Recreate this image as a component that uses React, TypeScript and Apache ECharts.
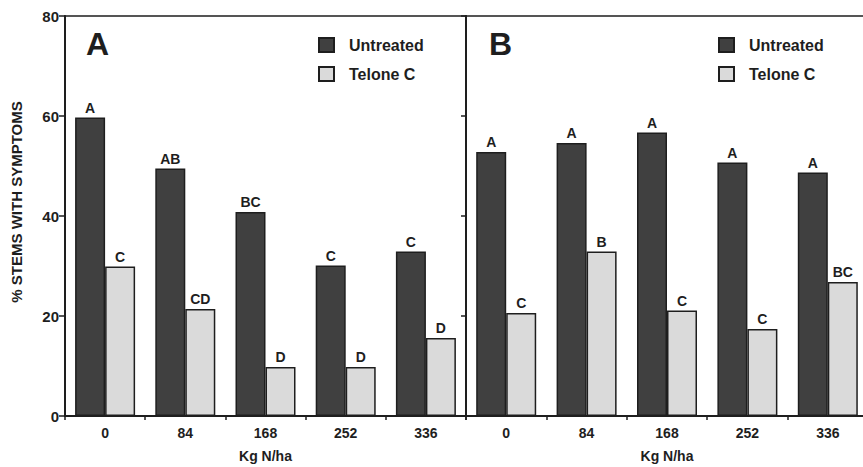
import React, { useEffect, useRef } from "react";
import * as echarts from "echarts";

const categories = ["0", "84", "168", "252", "336"];
const aUntreated = [59.7, 49.5, 40.8, 30.1, 32.9];
const aTelone = [29.9, 21.4, 9.8, 9.8, 15.6];
const bUntreated = [52.8, 54.6, 56.7, 50.7, 48.7];
const bTelone = [20.6, 32.9, 21.1, 17.4, 26.8];
const aUntreatedLetters = ["A", "AB", "BC", "C", "C"];
const aTeloneLetters = ["C", "CD", "D", "D", "D"];
const bUntreatedLetters = ["A", "A", "A", "A", "A"];
const bTeloneLetters = ["C", "B", "C", "C", "BC"];
const yTicks = [0, 20, 40, 60, 80];

const FONT = "'Liberation Sans', Arial, sans-serif";
const INK = "#1e1e1e";
const DARK = "#404040";
const LIGHT = "#dadada";

export default function App() {
  const ref = useRef<HTMLDivElement>(null);
  useEffect(() => {
    if (!ref.current) return;
    const chart = echarts.init(ref.current, null, { renderer: "svg" });
    const barLabel = (letters: string[]) => ({
      show: true,
      position: "top" as const,
      distance: 3,
      color: INK,
      fontFamily: FONT,
      fontWeight: "bold" as const,
      fontSize: 14,
      formatter: (p: any) => letters[p.dataIndex],
    });
    const mkSeries = (
      name: string,
      data: number[],
      letters: string[],
      idx: number,
      color: string
    ) => ({
      name,
      type: "bar" as const,
      xAxisIndex: idx,
      yAxisIndex: idx,
      data,
      barWidth: 30,
      barGap: "0%",
      itemStyle: { color, borderColor: INK, borderWidth: 1.5 },
      label: barLabel(letters),
    });
    const xAxisBase = (idx: number) => ({
      type: "category" as const,
      gridIndex: idx,
      data: categories,
      name: "Kg N/ha",
      nameLocation: "middle" as const,
      nameGap: 33,
      nameTextStyle: { color: INK, fontFamily: FONT, fontWeight: "bold" as const, fontSize: 14 },
      axisLine: { lineStyle: { color: INK, width: 2 } },
      axisTick: { show: true, length: 4, lineStyle: { color: INK, width: 1.5 } },
      axisLabel: { color: INK, fontFamily: FONT, fontWeight: "bold" as const, fontSize: 14, margin: 10 },
    });
    const legendBase = (left: number) => ({
      orient: "vertical" as const,
      left,
      top: 37,
      padding: 0,
      itemWidth: 15,
      itemHeight: 14,
      itemGap: 13,
      icon: "rect",
      data: ["Untreated", "Telone C"],
      selectedMode: false,
      textStyle: { color: INK, fontFamily: FONT, fontWeight: "bold" as const, fontSize: 16, padding: [0, 0, 0, 10] },
    });
    chart.setOption({
      animation: false,
      backgroundColor: "#ffffff",
      title: [
        { text: "A", left: 86, top: 28, padding: 0, textStyle: { color: INK, fontFamily: FONT, fontWeight: "bold", fontSize: 32 } },
        { text: "B", left: 489, top: 28, padding: 0, textStyle: { color: INK, fontFamily: FONT, fontWeight: "bold", fontSize: 32 } },
      ],
      legend: [legendBase(318), legendBase(718)],
      graphic: [
        {
          type: "text",
          x: 16,
          y: 202,
          rotation: Math.PI / 2,
          style: {
            text: "% STEMS WITH SYMPTOMS",
            fill: INK,
            font: `bold 15px ${FONT}`,
            align: "center",
            verticalAlign: "middle",
          },
        },
      ],
      grid: [
        { left: 65, top: 16, width: 401, height: 400, show: true, borderColor: INK, borderWidth: 1.5, outerBoundsMode: "none" },
        { left: 466, top: 16, width: 402, height: 400, show: true, borderColor: INK, borderWidth: 1.5, outerBoundsMode: "none" },
      ],
      xAxis: [xAxisBase(0), xAxisBase(1)],
      yAxis: [
        {
          type: "value",
          gridIndex: 0,
          min: yTicks[0],
          max: yTicks[yTicks.length - 1],
          interval: 20,
          axisLine: { show: true, lineStyle: { color: INK, width: 2 } },
          axisTick: { show: true, length: 6, lineStyle: { color: INK, width: 1.5 } },
          axisLabel: { color: INK, fontFamily: FONT, fontWeight: "bold", fontSize: 15, margin: 6 },
          splitLine: { show: false },
        },
        {
          type: "value",
          gridIndex: 1,
          min: yTicks[0],
          max: yTicks[yTicks.length - 1],
          interval: 20,
          axisLine: { show: true, lineStyle: { color: INK, width: 2 } },
          axisTick: { show: true, length: 5, lineStyle: { color: INK, width: 1.5 } },
          axisLabel: { show: false },
          splitLine: { show: false },
        },
      ],
      series: [
        mkSeries("Untreated", aUntreated, aUntreatedLetters, 0, DARK),
        mkSeries("Telone C", aTelone, aTeloneLetters, 0, LIGHT),
        mkSeries("Untreated", bUntreated, bUntreatedLetters, 1, DARK),
        mkSeries("Telone C", bTelone, bTeloneLetters, 1, LIGHT),
      ],
    });
    return () => chart.dispose();
  }, []);
  return (
    <div
      ref={ref}
      style={{ position: "fixed", left: 0, top: 0, width: 863, height: 467, background: "#fff" }}
    />
  );
}
